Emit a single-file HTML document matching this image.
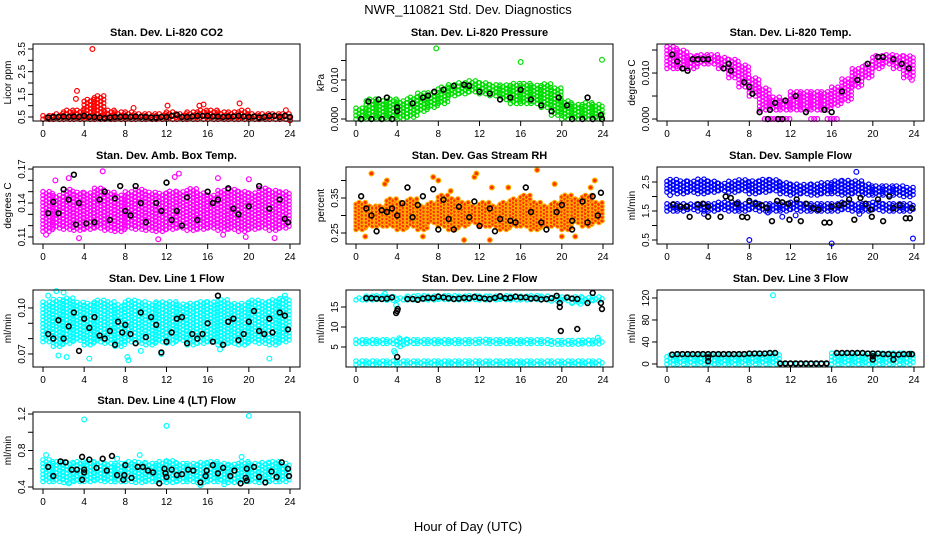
<!DOCTYPE html>
<html><head><meta charset="utf-8"><style>
body{margin:0;background:#fff;}
svg{display:block;font-family:"Liberation Sans",Arial,sans-serif;}
</style></head><body>
<svg id="chart" width="936" height="540" viewBox="0 0 936 540">
<text x="468" y="14" text-anchor="middle" font-size="13">NWR_110821  Std. Dev. Diagnostics</text>
<text x="468" y="531" text-anchor="middle" font-size="13">Hour of Day (UTC)</text>
</svg>
<script>
// ---------- data ----------
const hourTicks = [0,4,8,12,16,20,24];

const co2Lo = [0.4,0.4,0.4,0.4,0.4,0.4,0.4,0.4,0.4,0.4,0.4,0.4,0.4,0.4,0.4,0.4,0.4,0.4,0.4,0.4,0.4,0.4,0.4,0.4];
const co2Hi = [0.6,0.7,0.8,0.85,1.3,1.5,0.8,0.75,0.75,0.7,0.7,0.65,0.75,0.7,0.75,0.8,0.85,0.75,0.75,0.8,0.7,0.65,0.7,0.65];
const co2OutX = [4.8,3.3,3.2,8.8,12.1,15.2,15.6,19.1,23.6,24];
const co2OutY = [3.5,1.65,1.3,0.9,1.0,1.0,1.05,1.1,0.8,0.35];
const co2BlkX = [0.5,1,1.5,2,2.5,3,3.5,4,4.5,5,5.5,6,6.5,7,7.5,8,8.5,9,9.5,10,10.5,11,11.5,12,12.5,13,13.5,14,14.5,15,15.5,16,16.5,17,17.5,18,18.5,19,19.5,20,20.5,21,21.5,22,22.5,23,23.5,24];
const co2BlkY = [0.48,0.5,0.5,0.52,0.5,0.52,0.5,0.55,0.5,0.5,0.48,0.45,0.48,0.5,0.5,0.52,0.5,0.52,0.5,0.5,0.48,0.48,0.5,0.5,0.55,0.6,0.5,0.5,0.52,0.55,0.55,0.55,0.52,0.52,0.5,0.52,0.52,0.55,0.52,0.5,0.52,0.48,0.5,0.55,0.55,0.5,0.55,0.5];

const presLo = [0,0,0,0,0,0.0005,0.002,0.003,0.004,0.006,0.0065,0.007,0.0065,0.006,0.005,0.004,0.004,0.004,0.003,0.001,0,0,0,0];
const presHi = [0.003,0.0055,0.005,0.0055,0.005,0.006,0.007,0.007,0.0085,0.009,0.0095,0.010,0.0095,0.009,0.009,0.0095,0.0095,0.009,0.009,0.008,0.005,0.004,0.0045,0.004];
const presOutX = [7.8,16,23.9];
const presOutY = [0.0181,0.0146,0.0152];
const presBlkX = [0.5,1.5,2.5,3.5,4,4,1.2,2.2,3,5.5,6.5,7,7.6,8.5,9.5,10.5,11,12,13,14,15,16,17,18,19,20.5,19.7,21,22,23,23.8,23.9,22.5];
const presBlkY = [0,0,0,0,0.002,0.003,0.0045,0.005,0.0055,0.004,0.0055,0.006,0.007,0.0075,0.0085,0.0088,0.0085,0.007,0.0065,0.005,0.0055,0.0075,0.005,0.0035,0.002,0.0035,0.0055,0,0,0,0.001,0,0.0055];

const tempLo = [.011,.011,.011,.012,.012,.011,.009,.007,.005,.002,.002,.002,.002,.002,.002,.002,.003,.004,.007,.009,.011,.012,.011,.009];
const tempHi = [.016,.015,.014,.014,.014,.0135,.013,.012,.009,.007,.005,.004,.006,.006,.006,.006,.007,.009,.011,.012,.014,.014,.014,.014];
const tempOutX = [9.5,9.8,10.1,10.4,10.7,11,11.3,11.6,11.9,14,14.3,14.6,15.6,15.9,16.2,16.5,23.8];
const tempOutY = [0,0,0,0,0,0,0,0,0,0,0,0,0,0,0,0,0.0085];
const tempBlkX = [0.5,1,1.5,2,2.5,3,3.5,4,5.5,6,6.2,7.5,8,8.3,9,10,10.5,11.5,12.5,13.5,15.3,16,17,18.5,19.5,20.5,21,22,22.8,23.5,10.8,11.2,9.8];
const tempBlkY = [.014,.0125,.011,.0105,.013,.013,.013,.013,.011,.012,.0105,.008,.007,.0055,.0015,.002,.0035,.004,.005,.0015,.002,.0015,.006,.0085,.012,.0135,.0135,.013,.012,.011,0,0,0];

const ambLo = [.115,.118,.117,.116,.117,.118,.116,.115,.118,.117,.116,.115,.117,.118,.116,.117,.118,.116,.117,.115,.117,.118,.116,.118];
const ambHi = [.150,.148,.152,.150,.149,.153,.150,.148,.151,.152,.150,.149,.151,.150,.153,.150,.148,.151,.152,.150,.149,.153,.151,.150];
const ambOutX = [3.5,11.2,17.5,19.7,22.5,2.5,12.8,17,5.8,13.2,20,0.3,1.2];
const ambOutY = [.109,.108,.112,.110,.109,.162,.163,.162,.168,.166,.161,.112,.160];
const ambBlkX = [0.5,1,1.5,2,2.5,3,3.2,3.5,4.2,5,5.5,6,6.5,7,7.5,8,8.5,9,9.5,10,11,11.5,12,12.5,13,13.5,14,15,16,16.5,17,18,18.5,19,20,21,22,23,23.5,23.8];
const ambBlkY = [.131,.141,.131,.152,.143,.165,.121,.140,.122,.123,.143,.150,.125,.144,.155,.133,.129,.155,.140,.123,.140,.133,.158,.125,.133,.120,.145,.125,.150,.140,.143,.153,.135,.130,.137,.155,.135,.143,.126,.123];

const rhLo = [.26,.27,.27,.27,.26,.27,.26,.28,.27,.26,.27,.28,.27,.27,.26,.27,.27,.26,.27,.27,.26,.28,.27,.28];
const rhHi = [.34,.33,.33,.35,.34,.35,.33,.34,.36,.35,.34,.33,.34,.33,.34,.35,.36,.34,.33,.34,.36,.35,.36,.34];
const rhOutX = [1.5,3,7.5,8,11.5,11.7,13.2,14.8,17.6,19.3,23.2,21.3,6.5,0.9,10.5,13,20,2.8,9.2,22.8];
const rhOutY = [.42,.40,.41,.40,.41,.42,.38,.38,.43,.39,.40,.24,.24,.24,.23,.23,.24,.39,.37,.38];
const rhBlkX = [0.5,1,1.5,2,2.5,3,3.5,4,4.5,5,5.5,6,6.5,7.5,8,8.5,9,9.5,10,11,11.5,12,13,13.5,14,15,15.5,16.5,17,18,18.5,19.5,20,21,22,22.5,23,23.5,23.8,21];
const rhBlkY = [.355,.32,.30,.255,.315,.31,.32,.30,.335,.38,.295,.33,.355,.375,.26,.345,.29,.26,.325,.295,.34,.27,.32,.255,.29,.285,.28,.38,.31,.28,.26,.31,.33,.285,.34,.28,.355,.30,.365,.26];

const sfLoA = [1.5,1.5,1.55,1.5,1.5,1.55,1.5,1.5,1.55,1.5,1.5,1.5,1.55,1.5,1.5,1.5,1.5,1.55,1.5,1.5,1.55,1.5,1.5,1.5];
const sfHiA = [1.8,1.8,1.75,1.8,1.8,1.8,1.85,1.8,1.8,1.8,1.75,1.8,1.8,1.8,1.75,1.8,1.8,1.8,1.8,1.8,1.8,1.75,1.8,1.8];
const sfLoB = [2.15,2.1,2.15,2.1,2.15,2.2,2.15,2.2,2.1,2.15,2.2,2.1,2.05,2.1,2.05,2.1,2.1,2.05,2.1,2.05,2.05,2.05,2.05,2.0];
const sfHiB = [2.6,2.55,2.55,2.6,2.55,2.5,2.55,2.6,2.55,2.6,2.6,2.5,2.45,2.45,2.45,2.5,2.55,2.6,2.55,2.45,2.4,2.4,2.4,2.35];
const sfOutX = [8,16,23.9,18.4,11.2,3.6,12.5,18.7,0.3,9.8];
const sfOutY = [0.5,0.38,0.55,2.85,1.3,1.4,1.35,1.4,2.05,1.45];
const sfBlkX = [0.6,1.3,1.9,2.2,3,3.5,4,4,5.2,5.7,6.2,6.8,7.3,7.8,8,8.6,9.2,9.7,10.2,10.7,11.2,11.8,11.9,12.6,13,13.5,14.2,14.7,15.3,15.8,16,16.7,17.2,17.7,18.2,18.8,19.3,19.8,19.9,20.5,21,21.6,22,22.6,23.2,23.6,23.8];
const sfBlkY = [1.72,1.65,1.65,1.3,1.72,1.75,1.65,1.3,1.3,2.0,1.95,1.75,1.3,1.28,1.85,1.75,1.7,1.6,1.15,1.85,1.8,1.75,1.2,1.9,1.15,1.75,1.6,1.55,1.1,1.1,1.65,1.7,1.75,1.9,1.2,1.95,1.75,1.55,1.3,1.9,1.15,2.0,1.6,1.7,1.25,1.25,1.6];

const l1Lo = [.078,.075,.077,.079,.076,.078,.077,.075,.078,.077,.076,.078,.077,.079,.076,.077,.078,.076,.077,.076,.078,.077,.076,.078];
const l1Hi = [.104,.106,.107,.104,.103,.105,.104,.103,.105,.104,.103,.104,.105,.103,.104,.105,.104,.106,.103,.104,.105,.104,.106,.107];
const l1OutX = [1.3,2,1.5,2.3,8.2,8.3,4.5,11.5,22,9.5,17.2,0.5,23.5];
const l1OutY = [.111,.110,.069,.068,.068,.066,.067,.070,.067,.072,.073,.108,.108];
const l1BlkX = [0.5,1,1.5,2,2.5,3,3.5,4,4.5,5,5.5,6,6.5,7,7.3,7.7,8,8.5,9,9.5,10,10.5,11,11.5,12,12.5,13,13.5,14,14.5,15,15.5,16,16.5,17,17.5,18,18.5,19,19.5,20,20.5,21,21.5,22,22.3,23,23.5,23.8];
const l1BlkY = [.083,.080,.092,.080,.088,.097,.072,.093,.087,.094,.082,.080,.085,.076,.091,.084,.089,.083,.077,.097,.081,.094,.089,.071,.078,.084,.093,.094,.077,.083,.080,.083,.090,.078,.108,.076,.091,.093,.079,.083,.091,.098,.085,.083,.093,.084,.097,.095,.086];

const l2LoA = [16.8,16.8,16.9,16.7,16.8,16.8,16.9,16.8,16.9,16.9,16.8,16.9,16.8,16.8,16.9,16.8,16.8,16.9,16.8,16.5,16.6,16.2,16.4,16.6];
const l2HiA = [17.6,17.7,17.8,17.7,17.6,17.8,17.9,17.8,18.0,17.9,17.8,17.9,17.8,17.9,17.8,17.9,17.8,17.9,17.8,17.6,17.7,17.6,17.7,17.9];
const l2LoB = [5.9,5.9,5.9,5.9,5.6,5.9,5.9,5.9,5.9,5.9,5.9,5.9,6.0,5.9,5.9,5.9,5.9,5.9,5.9,5.7,5.7,5.7,5.8,5.8];
const l2HiB = [6.9,6.9,6.8,6.9,7.0,6.8,6.8,6.8,6.8,6.8,6.8,6.8,7.1,6.9,6.8,6.8,6.8,6.8,6.8,6.6,6.6,6.6,6.7,6.9];
const l2LoC = [0.6,0.6,0.6,0.6,0.6,0.6,0.6,0.6,0.6,0.6,0.6,0.6,0.6,0.6,0.6,0.6,0.6,0.6,0.6,0.6,0.6,0.6,0.6,0.6];
const l2HiC = [1.5,1.5,1.5,1.5,1.5,1.5,1.5,1.5,1.5,1.5,1.5,1.5,1.5,1.5,1.5,1.5,1.5,1.5,1.5,1.5,1.5,1.5,1.5,1.5];
const l2OutX = [3.7,3.8,3.9,4.2,4.3,2.8,21,23.5,21.8];
const l2OutY = [4,3.5,15.5,7.2,5.2,18.3,16,7.3,15.8];
const l2BlkX = [1,1.5,2,2.5,3,3.5,5,5.5,6,6.5,7,7.5,8,8.5,9,9.5,10,10.5,11,11.5,12,12.5,13,13.5,14,14.5,15,15.5,16,16.5,17,17.5,18,18.5,19,19.5,20.5,21,21.5,3.9,4,4.05,4,19.8,19.8,19.9,21.5,22.5,23,23.8,23.9];
const l2BlkY = [17.2,17.2,17.1,17.0,17.1,17.4,17.0,17.0,16.8,17.1,17.3,17.2,17.6,17.4,17.2,17.0,17.1,17.3,17.2,17.5,17.3,17.1,17.0,17.3,17.7,17.2,17.3,17.6,17.4,17.4,17.1,17.2,16.9,17.0,17.2,17.8,17.4,17.1,17.0,13.5,14,14.5,2.5,15,16,9,9.5,16,18.5,16,14.5];

const l3LoA = [0,0,0,0,0,0,0,0,0,0,0,0,0,0,0,0,0,0,0,0,0,0,0,0];
const l3HiA = [18,18,18,18,18,18,18,18,20,20,20,3,3,3,3,3,20,20,20,20,20,20,20,20];
const l3OutX = [10.3];
const l3OutY = [125];
const l3BlkX = [0.5,1,1.5,2,2.5,3,3.5,4,4,4,4.5,5,5.5,6,6.5,7,7.5,8,8.5,9,9.5,10,10.5,11,11.5,12,12.5,13,13.5,14,14.5,15,15.5,16.5,17,17.5,18,18.5,19,19.5,20,20,20,20.5,21,21.5,22,22,22.5,23,23.5,23.8];
const l3BlkY = [17,18,18,18,18,18,18,18,5,12,18,18,18,18,18,18,18,19,19,19,19,20,20,1,1,1,1,1,1,1,1,1,1,20,20,20,20,20,20,19,19,8,14,19,18,18,17,8,17,18,18,18];

const l4Lo = [0.46,0.46,0.45,0.46,0.46,0.47,0.46,0.46,0.46,0.45,0.46,0.46,0.45,0.46,0.46,0.45,0.46,0.46,0.45,0.46,0.46,0.45,0.46,0.46];
const l4Hi = [0.70,0.69,0.68,0.69,0.68,0.67,0.67,0.66,0.68,0.67,0.66,0.68,0.69,0.66,0.66,0.67,0.68,0.67,0.66,0.68,0.67,0.67,0.68,0.67];
const l4OutX = [4,12,20,15.3,0.3,9.4,19.3,7.2,2.5,17.6];
const l4OutY = [1.14,1.07,1.18,0.42,0.75,0.75,0.73,0.71,0.44,0.43];
const l4BlkX = [0.5,1,1.7,2.2,2.8,3.3,3.8,3.8,4,4,4.5,5.2,5.8,6.2,6.7,7.2,7.8,7.9,8,8.6,9.2,9.7,10.2,10.7,11.3,11.8,11.9,12,12.5,13,13.5,14.1,14.6,15.3,15.8,15.9,16.5,17,17.5,18.2,18.6,19.2,19.7,19.8,19.8,20.5,21,21.6,22.2,22.7,23.2,23.8,23.9];
const l4BlkY = [0.62,0.52,0.68,0.67,0.59,0.59,0.73,0.48,0.59,0.56,0.70,0.61,0.71,0.58,0.74,0.53,0.48,0.53,0.64,0.5,0.62,0.62,0.58,0.56,0.44,0.6,0.55,0.51,0.59,0.53,0.54,0.59,0.58,0.45,0.52,0.58,0.64,0.55,0.61,0.52,0.58,0.44,0.5,0.6,0.47,0.62,0.51,0.45,0.57,0.51,0.67,0.6,0.52];

// ---------- layout ----------
const colLeft = [33,346,657];
const rowTop = [44,167,290,412];
const BW = 267, BH = 77;
const panels = [
 {name:'co2',title:'Stan. Dev. Li-820 CO2',ylab:'Licor ppm',c:0,r:0,lo:0.324,hi:3.72,ticks:[0.5,1,1.5,2,2.5,3,3.5],labels:[0.5,1.5,2.5,3.5],fmt:1,col:'#ff0000',bands:[[co2Lo,co2Hi]],ox:co2OutX,oy:co2OutY,bx:co2BlkX,by:co2BlkY},
 {name:'pressure',title:'Stan. Dev. Li-820 Pressure',ylab:'kPa',c:1,r:0,lo:-0.00051,hi:0.01923,ticks:[0,0.005,0.01,0.015],labels:[0,0.01],fmt:3,col:'#00dd00',bands:[[presLo,presHi]],ox:presOutX,oy:presOutY,bx:presBlkX,by:presBlkY},
 {name:'temp',title:'Stan. Dev. Li-820 Temp.',ylab:'degrees C',c:2,r:0,lo:-0.00043,hi:0.01631,ticks:[0,0.005,0.01,0.015],labels:[0,0.01],fmt:3,col:'#ff00ff',bands:[[tempLo,tempHi]],ox:tempOutX,oy:tempOutY,bx:tempBlkX,by:tempBlkY},
 {name:'amb-box-temp',title:'Stan. Dev. Amb. Box Temp.',ylab:'degrees C',c:0,r:1,lo:0.1038,hi:0.1718,ticks:[0.11,0.12,0.13,0.14,0.15,0.16,0.17],labels:[0.11,0.14,0.17],fmt:2,col:'#ff00ff',bands:[[ambLo,ambHi]],ox:ambOutX,oy:ambOutY,bx:ambBlkX,by:ambBlkY},
 {name:'gas-stream-rh',title:'Stan. Dev. Gas Stream RH',ylab:'percent',c:1,r:1,lo:0.2186,hi:0.4386,ticks:[0.25,0.3,0.35,0.4],labels:[0.25,0.35],fmt:2,col:'#ffb000',bands:[[rhLo,rhHi]],ox:rhOutX,oy:rhOutY,bx:rhBlkX,by:rhBlkY},
 {name:'sample-flow',title:'Stan. Dev. Sample Flow',ylab:'ml/min',c:2,r:1,lo:0.362,hi:3.017,ticks:[0.5,1,1.5,2,2.5],labels:[0.5,1.5,2.5],fmt:1,col:'#0000ff',bands:[[sfLoA,sfHiA],[sfLoB,sfHiB]],ox:sfOutX,oy:sfOutY,bx:sfBlkX,by:sfBlkY},
 {name:'line1-flow',title:'Stan. Dev. Line 1 Flow',ylab:'ml/min',c:0,r:2,lo:0.0615,hi:0.1117,ticks:[0.07,0.08,0.09,0.1],labels:[0.07,0.1],fmt:2,col:'#00ffff',bands:[[l1Lo,l1Hi]],ox:l1OutX,oy:l1OutY,bx:l1BlkX,by:l1BlkY},
 {name:'line2-flow',title:'Stan. Dev. Line 2 Flow',ylab:'ml/min',c:1,r:2,lo:0,hi:19.25,ticks:[5,10,15],labels:[5,10,15],fmt:0,col:'#00ffff',bands:[[l2LoA,l2HiA],[l2LoB,l2HiB],[l2LoC,l2HiC]],ox:l2OutX,oy:l2OutY,bx:l2BlkX,by:l2BlkY},
 {name:'line3-flow',title:'Stan. Dev. Line 3 Flow',ylab:'ml/min',c:2,r:2,lo:-5.5,hi:134.5,ticks:[0,40,80,120],labels:[0,40,80,120],fmt:0,col:'#00ffff',bands:[[l3LoA,l3HiA]],ox:l3OutX,oy:l3OutY,bx:l3BlkX,by:l3BlkY},
 {name:'line4-flow',title:'Stan. Dev. Line 4 (LT) Flow',ylab:'ml/min',c:0,r:3,lo:0.378,hi:1.222,ticks:[0.4,0.6,0.8,1.0,1.2],labels:[0.4,0.8,1.2],fmt:1,col:'#00ffff',bands:[[l4Lo,l4Hi]],ox:l4OutX,oy:l4OutY,bx:l4BlkX,by:l4BlkY}
];

const NS='http://www.w3.org/2000/svg';
const svg=document.getElementById('chart');
function mk(tag,attrs,parent){const e=document.createElementNS(NS,tag);for(const k in attrs)e.setAttribute(k,attrs[k]);parent.appendChild(e);return e;}

panels.forEach(p=>{
  const L=colLeft[p.c], T=rowTop[p.r], B=T+BH;
  const xs=h=>L+10+h*(247/24);
  const ys=v=>B-(v-p.lo)/(p.hi-p.lo)*BH;
  const g=mk('g',{},svg);
  
  
  const t=mk('text',{x:L+BW/2,y:T-8,'text-anchor':'middle','font-size':11,'font-weight':'bold'},g);
  t.textContent=p.title;
  
  
  const yl=mk('text',{x:0,y:0,'text-anchor':'middle','font-size':10,transform:`translate(${L-22},${T+BH/2}) rotate(-90)`},g);
  yl.textContent=p.ylab;
  
  
  const marks=mk('g',{fill:'none','stroke-width':1.2},g);
  
  
  const ppu=BH/(p.hi-p.lo);
  p.bands.forEach(([lo,hi])=>{
    for(let h=0;h<24;h++){
      const step=3.6/ppu;
      let k=0;
      for(let x=h;x<h+1-1e-9;x+=0.3,k++){
        const off=(k%2)?step/2:0;
        for(let v=lo[h]+off;v<=hi[h]+1e-12;v+=step){
          const c=mk('circle',{cx:xs(x).toFixed(1),cy:ys(v).toFixed(1),r:2.2,stroke:p.col},marks);
          
          
        }
      }
    }
  });
  if(p.name==='gas-stream-rh'){marks.setAttribute('fill','#ff3000');}
  p.ox.forEach((x,i)=>{
    const c=mk('circle',{cx:xs(x),cy:ys(p.oy[i]),r:2.4,stroke:p.col},marks);
    
    
  });
  p.bx.forEach((x,i)=>{
    const c=mk('circle',{cx:xs(x),cy:ys(p.by[i]),r:2.4,stroke:'#000','stroke-width':1.6,fill:'none'},marks);
    
    
  });
  const box=mk('rect',{x:L,y:T,width:BW,height:BH,fill:'none',stroke:'#000','stroke-width':1},g);
  
  
  hourTicks.forEach(h=>{
    const x=xs(h);
    const tk=mk('line',{x1:x,x2:x,y1:B,y2:B+5,stroke:'#000'},g);
    
    
    const tl=mk('text',{x:x,y:B+16,'text-anchor':'middle','font-size':10},g);
    tl.textContent=h;
    
    
  });
  p.ticks.forEach(v=>{
    const y=ys(v);
    const tk=mk('line',{x1:L-5,x2:L,y1:y,y2:y,stroke:'#000'},g);
    
    
  });
  p.labels.forEach(v=>{
    const y=ys(v);
    const tl=mk('text',{x:0,y:0,'text-anchor':'middle','font-size':10,transform:`translate(${L-8},${y}) rotate(-90)`},g);
    tl.textContent=v.toFixed(p.fmt);
    
    
  });
});
</script>
</body></html>
